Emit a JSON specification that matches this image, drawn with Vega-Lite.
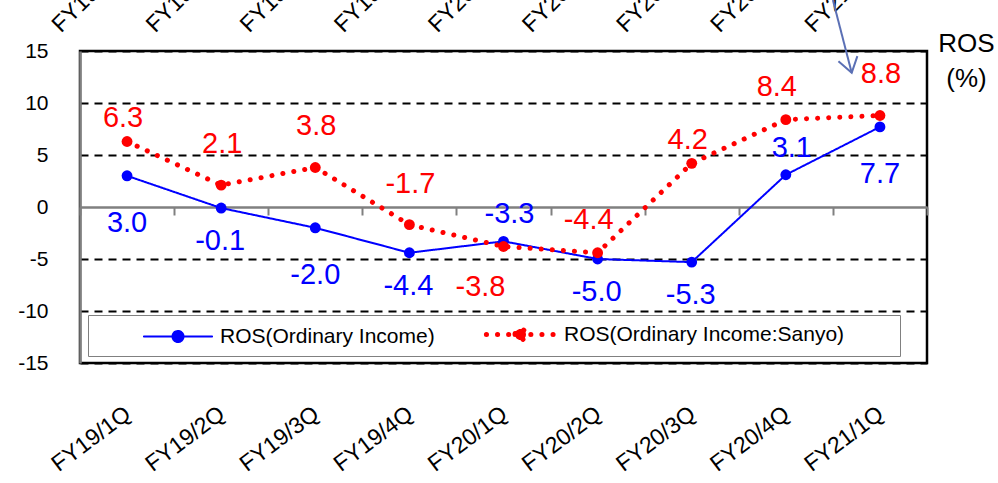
{
  "$schema": "https://vega.github.io/schema/vega-lite/v6.json",
  "width": 847,
  "height": 312,
  "autosize": {"type": "none"},
  "padding": {"left": 80, "top": 51, "right": 71, "bottom": 120},
  "background": "white",
  "config": {
    "font": "Liberation Sans",
    "locale": {"number": {"decimal": ".", "thousands": ",", "grouping": [3], "currency": ["$", ""], "minus": "-"}},
    "view": {"stroke": "black", "strokeWidth": 2.5},
    "axis": {"labelFont": "Liberation Sans", "titleFont": "Liberation Sans", "labelColor": "black", "titleColor": "black", "zindex": 0},
    "text": {"font": "Liberation Sans"}
  },
  "datasets": {
    "ros": [
      {"q": "FY19/1Q", "s": "ROS(Ordinary Income)", "v": 3.0},
      {"q": "FY19/2Q", "s": "ROS(Ordinary Income)", "v": -0.1},
      {"q": "FY19/3Q", "s": "ROS(Ordinary Income)", "v": -2.0},
      {"q": "FY19/4Q", "s": "ROS(Ordinary Income)", "v": -4.4},
      {"q": "FY20/1Q", "s": "ROS(Ordinary Income)", "v": -3.3},
      {"q": "FY20/2Q", "s": "ROS(Ordinary Income)", "v": -5.0},
      {"q": "FY20/3Q", "s": "ROS(Ordinary Income)", "v": -5.3},
      {"q": "FY20/4Q", "s": "ROS(Ordinary Income)", "v": 3.1},
      {"q": "FY21/1Q", "s": "ROS(Ordinary Income)", "v": 7.7},
      {"q": "FY19/1Q", "s": "ROS(Ordinary Income:Sanyo)", "v": 6.3},
      {"q": "FY19/2Q", "s": "ROS(Ordinary Income:Sanyo)", "v": 2.1},
      {"q": "FY19/3Q", "s": "ROS(Ordinary Income:Sanyo)", "v": 3.8},
      {"q": "FY19/4Q", "s": "ROS(Ordinary Income:Sanyo)", "v": -1.7},
      {"q": "FY20/1Q", "s": "ROS(Ordinary Income:Sanyo)", "v": -3.8},
      {"q": "FY20/2Q", "s": "ROS(Ordinary Income:Sanyo)", "v": -4.4},
      {"q": "FY20/3Q", "s": "ROS(Ordinary Income:Sanyo)", "v": 4.2},
      {"q": "FY20/4Q", "s": "ROS(Ordinary Income:Sanyo)", "v": 8.4},
      {"q": "FY21/1Q", "s": "ROS(Ordinary Income:Sanyo)", "v": 8.8}
    ]
  },
  "resolve": {"scale": {"x": "independent"}},
  "layer": [
    {
      "data": {"name": "ros"},
      "resolve": {"axis": {"x": "independent"}},
      "layer": [
        {
          "mark": {"type": "line", "strokeCap": "round"},
          "encoding": {
            "x": {"field": "q", "type": "nominal", "sort": null,
              "scale": {"type": "band", "domain": ["FY19/1Q","FY19/2Q","FY19/3Q","FY19/4Q","FY20/1Q","FY20/2Q","FY20/3Q","FY20/4Q","FY21/1Q"], "paddingInner": 0, "paddingOuter": 0},
              "axis": {"orient": "bottom", "domain": false, "ticks": false, "labelAngle": -37, "labelAlign": "right", "labelBaseline": "middle", "labelPadding": 48, "labelOffset": 1, "labelFontSize": 23, "title": null, "labelOverlap": false, "labelFlush": false, "grid": false}},
            "y": {"field": "v", "type": "quantitative",
              "scale": {"domain": [-15, 15], "nice": false, "zero": false},
              "axis": {"values": [-15, -10, -5, 0, 5, 10, 15], "domainColor": "#808080", "domainWidth": 2.5, "ticks": false, "tickSize": 0, "labelPadding": 32, "labelFontSize": 21,
                "grid": true, "gridColor": {"condition": {"test": "datum.value === 0", "value": "#808080"}, "value": "black"},
                "gridDash": {"condition": {"test": "datum.value === 0", "value": [1, 0]}, "value": [8, 6]}, "gridWidth": 2,
                "title": ["ROS", "(%)"], "titleAngle": 0, "titleX": 886, "titleY": -7.5, "titleAlign": "center", "titleBaseline": "middle", "titleFontSize": 26, "titleFontWeight": "normal", "titleLineHeight": 35}},
            "color": {"field": "s", "type": "nominal",
              "scale": {"domain": ["ROS(Ordinary Income)", "ROS(Ordinary Income:Sanyo)"], "range": ["#0000FF", "#FF0000"]},
              "legend": {"orient": "none", "legendX": 8, "legendY": 264, "direction": "horizontal", "title": "\u00a0", "titleOrient": "right", "titlePadding": 50,
                "symbolType": "M-3.1,0H3.1M-0.5,0A0.5,0.5,0,1,0,0.5,0A0.5,0.5,0,1,0,-0.5,0Z",
                "symbolSize": 484, "symbolOffset": 72, "labelOffset": 30, "labelFontSize": 21, "labelColor": "black", "labelFont": "Liberation Sans", "labelLimit": 0,
                "columnPadding": 0, "padding": 6, "strokeColor": "#808080", "fillColor": "white",
                "encode": {"symbols": {"update": {"fill": {"scale": "color", "field": "value"}, "strokeCap": {"value": "round"}}}}}},
            "strokeDash": {"field": "s", "type": "nominal",
              "scale": {"domain": ["ROS(Ordinary Income)", "ROS(Ordinary Income:Sanyo)"], "range": [[1, 0], [0.1, 11]]}},
            "strokeWidth": {"field": "s", "type": "nominal",
              "scale": {"domain": ["ROS(Ordinary Income)", "ROS(Ordinary Income:Sanyo)"], "range": [2, 5]}}
          }
        },
        {
          "mark": {"type": "point", "filled": true, "size": 118, "opacity": 1},
          "encoding": {
            "x": {"field": "q", "type": "nominal", "sort": null,
              "axis": {"orient": "top", "domain": false, "ticks": false, "labelAngle": -45, "labelAlign": "left", "labelBaseline": "alphabetic", "labelPadding": 18, "labelOffset": -66, "labelFontSize": 23, "title": null, "labelOverlap": false, "labelFlush": false, "grid": false}},
            "y": {"field": "v", "type": "quantitative"},
            "color": {"field": "s", "type": "nominal"}
          }
        },
        {
          "transform": [{"filter": {"and": [{"field": "s", "equal": "ROS(Ordinary Income)"}, {"field": "q", "oneOf": ["FY19/1Q", "FY19/3Q", "FY21/1Q"]}]}}],
          "mark": {"type": "text", "fontSize": 29, "fill": "#0000FF", "align": "center", "baseline": "middle", "dy": 47},
          "encoding": {
            "x": {"field": "q", "type": "nominal", "sort": null,
              "axis": {"orient": "bottom", "offset": -156, "labels": false, "domainColor": "#808080", "domainWidth": 2, "tickColor": "#808080", "tickWidth": 2, "tickSize": 8, "tickBand": "extent", "title": null, "grid": false}},
            "y": {"field": "v", "type": "quantitative"},
            "text": {"field": "v", "type": "quantitative", "format": ".1f"}
          }
        },
        {
          "transform": [{"filter": {"and": [{"field": "s", "equal": "ROS(Ordinary Income)"}, {"field": "q", "oneOf": ["FY19/2Q", "FY19/4Q", "FY20/2Q", "FY20/3Q"]}]}}],
          "mark": {"type": "text", "fontSize": 29, "fill": "#0000FF", "align": "center", "baseline": "middle", "dy": 33, "dx": -1},
          "encoding": {
            "x": {"field": "q", "type": "nominal", "sort": null, "axis": null},
            "y": {"field": "v", "type": "quantitative"},
            "text": {"field": "v", "type": "quantitative", "format": ".1f"}
          }
        },
        {
          "transform": [{"filter": {"and": [{"field": "s", "equal": "ROS(Ordinary Income)"}, {"field": "q", "oneOf": ["FY20/1Q", "FY20/4Q"]}]}}],
          "mark": {"type": "text", "fontSize": 29, "fill": "#0000FF", "align": "center", "baseline": "middle", "dy": -27, "dx": 6},
          "encoding": {
            "x": {"field": "q", "type": "nominal", "sort": null, "axis": null},
            "y": {"field": "v", "type": "quantitative"},
            "text": {"field": "v", "type": "quantitative", "format": ".1f"}
          }
        },
        {
          "transform": [{"filter": {"and": [{"field": "s", "equal": "ROS(Ordinary Income:Sanyo)"}, {"field": "q", "oneOf": ["FY19/2Q", "FY19/3Q", "FY19/4Q", "FY21/1Q"]}]}}],
          "mark": {"type": "text", "fontSize": 29, "fill": "#FF0000", "align": "center", "baseline": "middle", "dy": -41, "dx": 1},
          "encoding": {
            "x": {"field": "q", "type": "nominal", "sort": null, "axis": null},
            "y": {"field": "v", "type": "quantitative"},
            "text": {"field": "v", "type": "quantitative", "format": ".1f"}
          }
        },
        {
          "transform": [{"filter": {"and": [{"field": "s", "equal": "ROS(Ordinary Income:Sanyo)"}, {"field": "q", "oneOf": ["FY20/2Q", "FY20/4Q"]}]}}],
          "mark": {"type": "text", "fontSize": 29, "fill": "#FF0000", "align": "center", "baseline": "middle", "dy": -33, "dx": -9},
          "encoding": {
            "x": {"field": "q", "type": "nominal", "sort": null, "axis": null},
            "y": {"field": "v", "type": "quantitative"},
            "text": {"field": "v", "type": "quantitative", "format": ".1f"}
          }
        },
        {
          "transform": [{"filter": {"and": [{"field": "s", "equal": "ROS(Ordinary Income:Sanyo)"}, {"field": "q", "oneOf": ["FY19/1Q", "FY20/3Q"]}]}}],
          "mark": {"type": "text", "fontSize": 29, "fill": "#FF0000", "align": "center", "baseline": "middle", "dy": -23, "dx": -4},
          "encoding": {
            "x": {"field": "q", "type": "nominal", "sort": null, "axis": null},
            "y": {"field": "v", "type": "quantitative"},
            "text": {"field": "v", "type": "quantitative", "format": ".1f"}
          }
        },
        {
          "transform": [{"filter": {"and": [{"field": "s", "equal": "ROS(Ordinary Income:Sanyo)"}, {"field": "q", "oneOf": ["FY20/1Q"]}]}}],
          "mark": {"type": "text", "fontSize": 29, "fill": "#FF0000", "align": "center", "baseline": "middle", "dy": 40, "dx": -23},
          "encoding": {
            "x": {"field": "q", "type": "nominal", "sort": null, "axis": null},
            "y": {"field": "v", "type": "quantitative"},
            "text": {"field": "v", "type": "quantitative", "format": ".1f"}
          }
        }
      ]
    },
    {
      "data": {"values": [{"x1": 8.0, "y1": 19.9, "x2": 8.2, "y2": 12.9}]},
      "layer": [
        {
          "mark": {"type": "rule", "stroke": "#5B70B5", "strokeWidth": 2},
          "encoding": {
            "x": {"field": "x1", "type": "quantitative", "scale": {"domain": [0, 9], "nice": false, "zero": false}, "axis": null},
            "x2": {"field": "x2"},
            "y": {"field": "y1", "type": "quantitative", "scale": {"domain": [-15, 15], "nice": false, "zero": false}},
            "y2": {"field": "y2"}
          }
        },
        {
          "mark": {"type": "point", "shape": "M-0.8,-1.2L0,0L0.8,-1.2", "angle": -15, "size": 600, "stroke": "#5B70B5", "strokeWidth": 2, "filled": false, "opacity": 1},
          "encoding": {
            "x": {"field": "x2", "type": "quantitative", "scale": {"domain": [0, 9], "nice": false, "zero": false}, "axis": null},
            "y": {"field": "y2", "type": "quantitative", "scale": {"domain": [-15, 15], "nice": false, "zero": false}}
          }
        }
      ]
    }
  ]
}
